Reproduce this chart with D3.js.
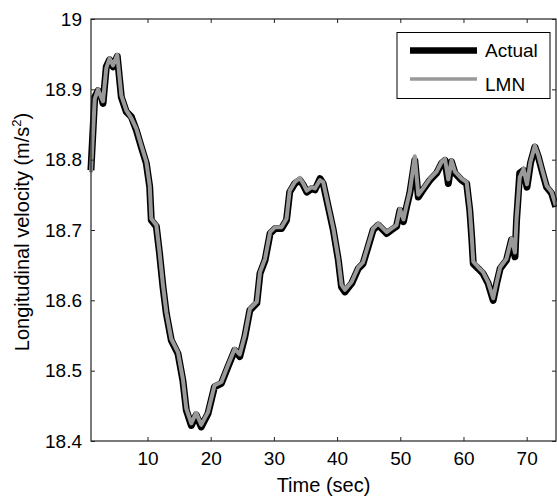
<!DOCTYPE html>
<html>
<head>
<meta charset="utf-8">
<script src="https://d3js.org/d3.v7.min.js"></script>
<style>
  body { margin: 0; background: #fff; }
  svg { display: block; font-family: "Liberation Sans", Arial, sans-serif; }
</style>
</head>
<body>
<div id="chart"></div>
<script>
// Chart data
const timeSec = [
  1.05, 1.65, 2.17, 2.6, 2.96, 3.48, 4.0, 4.54, 5.22, 5.86,
  6.65, 7.44, 8.23, 9.02, 9.81, 10.35, 10.6, 11.4, 11.9, 12.45,
  12.98, 13.77, 14.83, 15.6, 16.14, 16.93, 17.7, 18.5, 19.57, 20.6,
  21.7, 22.7, 23.8, 24.6, 25.4, 26.2, 27.3, 27.8, 28.6, 29.4,
  30.2, 31.2, 32.0, 32.5, 33.3, 34.1, 34.65, 35.2, 36.0, 36.5,
  37.3, 37.8, 38.6, 39.4, 40.2, 40.7, 41.25, 42.3, 43.35, 44.1,
  44.9, 45.7, 46.5, 47.3, 47.85, 48.6, 49.4, 49.95, 50.5, 51.0,
  51.5, 52.3, 52.85, 53.6, 54.7, 55.75, 56.55, 57.07, 57.6, 58.1,
  58.65, 59.7, 60.5, 61.0, 61.3, 61.55, 62.35, 63.1, 63.9, 64.7,
  65.25, 65.8, 66.8, 67.6, 68.15, 68.4, 68.9, 69.5, 70.05, 70.6,
  71.3, 71.85, 72.4, 73.15, 73.95, 74.6
];

const actual = [
  18.785, 18.889, 18.898, 18.893, 18.880, 18.932, 18.942, 18.932, 18.947, 18.889,
  18.868, 18.861, 18.842, 18.818, 18.795, 18.761, 18.714, 18.705, 18.667, 18.619,
  18.581, 18.543, 18.524, 18.486, 18.444, 18.422, 18.437, 18.420, 18.439, 18.477,
  18.482, 18.505, 18.529, 18.520, 18.548, 18.586, 18.596, 18.638, 18.657, 18.695,
  18.702, 18.702, 18.714, 18.754, 18.766, 18.771, 18.764, 18.754, 18.759, 18.757,
  18.773, 18.766, 18.733, 18.700, 18.657, 18.619, 18.612, 18.624, 18.645, 18.652,
  18.676, 18.700, 18.707, 18.700, 18.695, 18.700, 18.705, 18.728, 18.712, 18.733,
  18.752, 18.799, 18.747, 18.757, 18.771, 18.781, 18.795, 18.799, 18.766, 18.797,
  18.781, 18.771, 18.766, 18.728, 18.690, 18.652, 18.645, 18.638, 18.624, 18.600,
  18.624, 18.645, 18.657, 18.686, 18.662, 18.714, 18.781, 18.785, 18.761, 18.795,
  18.818, 18.804, 18.785, 18.761, 18.752, 18.733
];

const lmn = [
  18.782, 18.886, 18.900, 18.890, 18.883, 18.930, 18.944, 18.934, 18.949, 18.891,
  18.870, 18.859, 18.844, 18.820, 18.797, 18.763, 18.716, 18.707, 18.669, 18.621,
  18.583, 18.545, 18.526, 18.488, 18.446, 18.425, 18.440, 18.423, 18.441, 18.479,
  18.484, 18.507, 18.531, 18.523, 18.550, 18.588, 18.598, 18.640, 18.659, 18.697,
  18.704, 18.704, 18.716, 18.756, 18.768, 18.774, 18.766, 18.756, 18.761, 18.759,
  18.771, 18.768, 18.735, 18.702, 18.659, 18.622, 18.615, 18.626, 18.647, 18.654,
  18.678, 18.702, 18.709, 18.702, 18.697, 18.702, 18.707, 18.730, 18.715, 18.735,
  18.754, 18.805, 18.750, 18.759, 18.773, 18.783, 18.797, 18.801, 18.772, 18.799,
  18.783, 18.773, 18.768, 18.730, 18.692, 18.655, 18.647, 18.640, 18.626, 18.603,
  18.626, 18.647, 18.659, 18.688, 18.668, 18.716, 18.775, 18.787, 18.765, 18.797,
  18.820, 18.806, 18.787, 18.763, 18.754, 18.735
];

const xTicks = [10, 20, 30, 40, 50, 60, 70];
const yTicks = [18.4, 18.5, 18.6, 18.7, 18.8, 18.9, 19];
const yTickLabels = ["18.4", "18.5", "18.6", "18.7", "18.8", "18.9", "19"];
const seriesNames = ["Actual", "LMN"];

// Layout
const W = 557, H = 498;
const plot = { left: 91, right: 556, top: 19, bottom: 441 };
const tickFont = 19, labelFont = 20;

const svg = d3.select("#chart")
  .append("svg")
  .attr("width", W)
  .attr("height", H);

// Scales
const x = d3.scaleLinear().domain([1.06, 74.64]).range([plot.left, plot.right]);
const y = d3.scaleLinear().domain([18.4, 19]).range([plot.bottom, plot.top]);

// Lines (black underneath, grey on top)
const line = d3.line()
  .x((d, i) => x(timeSec[i]))
  .y(d => y(d));

svg.append("path")
  .datum(actual)
  .attr("fill", "none")
  .attr("stroke", "#000")
  .attr("stroke-width", 7)
  .attr("stroke-linejoin", "round")
  .attr("d", line);

svg.append("path")
  .datum(lmn)
  .attr("fill", "none")
  .attr("stroke", "#999")
  .attr("stroke-width", 4)
  .attr("stroke-linejoin", "round")
  .attr("d", line);

// Axes, ticks pointing inward on all four sides
const axisColor = "#222";

function styleAxis(g) {
  g.select(".domain").remove();
  g.selectAll(".tick line").attr("stroke", axisColor);
  g.selectAll(".tick text")
    .attr("fill", "#000")
    .attr("font-size", tickFont)
    .attr("font-family", "Liberation Sans, Arial, sans-serif");
}

svg.append("g")
  .attr("transform", `translate(0,${plot.bottom})`)
  .call(d3.axisBottom(x).tickValues(xTicks).tickSize(-4).tickPadding(11).tickFormat(d3.format("d")))
  .call(styleAxis);

svg.append("g")
  .attr("transform", `translate(0,${plot.top})`)
  .call(d3.axisTop(x).tickValues(xTicks).tickSize(-4).tickFormat(""))
  .call(styleAxis);

svg.append("g")
  .attr("transform", `translate(${plot.left},0)`)
  .call(d3.axisLeft(y).tickValues(yTicks).tickSize(-4).tickPadding(9)
    .tickFormat((d, i) => yTickLabels[i]))
  .call(styleAxis);

svg.append("g")
  .attr("transform", `translate(${plot.right},0)`)
  .call(d3.axisRight(y).tickValues(yTicks).tickSize(-4).tickFormat(""))
  .call(styleAxis);

// Frame
svg.append("rect")
  .attr("x", plot.left)
  .attr("y", plot.top)
  .attr("width", plot.right - plot.left)
  .attr("height", plot.bottom - plot.top)
  .attr("fill", "none")
  .attr("stroke", axisColor)
  .attr("stroke-width", 1.2);

// Axis labels
svg.append("text")
  .attr("x", (plot.left + plot.right) / 2)
  .attr("y", 492)
  .attr("text-anchor", "middle")
  .attr("font-size", labelFont)
  .text("Time (sec)");

const yLabel = svg.append("text")
  .attr("transform", `translate(29,${(plot.top + plot.bottom) / 2 + 2}) rotate(-90)`)
  .attr("text-anchor", "middle")
  .attr("font-size", labelFont);
yLabel.append("tspan").text("Longitudinal velocity (m/s");
yLabel.append("tspan").attr("font-size", 13).attr("dy", -8).text("2");
yLabel.append("tspan").attr("dy", 8).text(")");

// Legend
const legend = svg.append("g");
legend.append("rect")
  .attr("x", 397)
  .attr("y", 32.5)
  .attr("width", 153)
  .attr("height", 66)
  .attr("fill", "#fff")
  .attr("stroke", "#000")
  .attr("stroke-width", 1);

const legendRows = [
  { name: seriesNames[0], color: "#000", width: 6.5, ly: 50.5, ty: 57 },
  { name: seriesNames[1], color: "#999", width: 3.5, ly: 79, ty: 91 }
];

legendRows.forEach(r => {
  legend.append("line")
    .attr("x1", 410).attr("x2", 477)
    .attr("y1", r.ly).attr("y2", r.ly)
    .attr("stroke", r.color)
    .attr("stroke-width", r.width);
  legend.append("text")
    .attr("x", 485)
    .attr("y", r.ty)
    .attr("font-size", tickFont)
    .text(r.name);
});
</script>
</body>
</html>
